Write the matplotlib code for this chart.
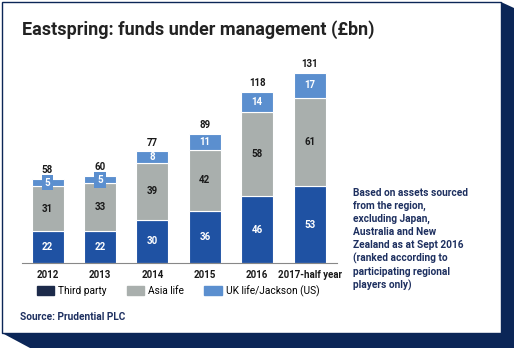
import matplotlib
matplotlib.use("Agg")
import matplotlib.pyplot as plt
from matplotlib.patches import Rectangle, Polygon, Patch

years = ["2012", "2013", "2014", "2015", "2016", "2017-half year"]
third_party = [22, 22, 30, 36, 46, 53]
asia_life = [31, 33, 39, 42, 58, 61]
uk_jackson = [5, 5, 8, 11, 14, 17]
totals = [58, 60, 77, 89, 118, 131]
legend_labels = ["Third party", "Asia life", "UK life/Jackson (US)"]
note = ("Based on assets sourced\nfrom the region,\nexcluding Japan,\nAustralia and New\n"
        "Zealand as at Sept 2016\n(ranked according to\nparticipating regional\nplayers only)")

W, H = 514, 350
navy = "#0b2657"
c_third = "#1f52a3"
c_asia = "#a9afad"
c_uk = "#5b8fcf"
font = "Roboto"

fig = plt.figure(figsize=(W / 100, H / 100), dpi=100)

def px(x, y):
    return (x / W, 1 - y / H)

# card shadow and card, kept behind the axes
shadow = Polygon([px(2, 333), px(30, 348), px(514, 348), px(514, 8), px(501, 2), px(501, 333)],
                 closed=True, transform=fig.transFigure, facecolor=navy, edgecolor="none",
                 zorder=-2)
fig.patches.append(shadow)
card = Rectangle(px(2, 333), 499 / W, 331 / H, transform=fig.transFigure,
                 facecolor="white", edgecolor=navy, linewidth=1, zorder=-1)
fig.patches.append(card)

fig.text(*px(22, 30), "Eastspring: funds under management (£bn)", fontsize=13,
         fontweight="bold", family=font, color="#222222", va="center")

ax = fig.add_axes([22 / W, 1 - 263 / H, 315 / W, 203 / H])
x = range(len(years))
bw = 0.61
ax.bar(x, third_party, bw, color=c_third, edgecolor="white", linewidth=0.8)
ax.bar(x, asia_life, bw, bottom=third_party, color=c_asia, edgecolor="white", linewidth=0.8)
b2 = [a + b for a, b in zip(third_party, asia_life)]
ax.bar(x, uk_jackson, bw, bottom=b2, color=c_uk, edgecolor="white", linewidth=0.8)

lab = dict(ha="center", va="center", fontsize=7, fontweight="bold", family=font)
for i in x:
    ax.text(i, third_party[i] / 2, str(third_party[i]), color="white", **lab)
    ax.text(i, third_party[i] + asia_life[i] / 2, str(asia_life[i]), color="#1a1a1a", **lab)
    kw = {}
    if uk_jackson[i] < 7:
        kw["bbox"] = dict(boxstyle="square,pad=0.3", facecolor=c_uk, edgecolor="none")
    ax.text(i, b2[i] + uk_jackson[i] / 2, str(uk_jackson[i]), color="white", **lab, **kw)
    ax.text(i, totals[i] + 6, str(totals[i]), color="#1a1a1a", **lab)

ax.set_xlim(-0.487, 5.52)
ax.set_ylim(0, 140)
ax.set_xticks(list(x))
ax.set_xticklabels(years, fontsize=7, fontweight="bold", family=font, color="#1a1a1a")
ax.tick_params(axis="x", length=0, pad=5)
ax.set_yticks([])
for s in ["top", "right", "left"]:
    ax.spines[s].set_visible(False)
ax.spines["bottom"].set_color("#888888")
ax.spines["bottom"].set_linewidth(0.8)
ax.set_facecolor("none")

handles = [Patch(color="#1c2a4a"), Patch(color=c_asia), Patch(color=c_uk)]
fig.legend(handles, legend_labels, loc="center", bbox_to_anchor=px(178, 291), ncol=3,
           frameon=False, handlelength=1.7, handleheight=0.9, columnspacing=2.0,
           handletextpad=0.4, prop={"family": font, "size": 7.3})

fig.text(*px(353, 188), note, fontsize=7.3, fontweight="bold", family=font,
         color="#1e3060", va="top", linespacing=1.35)
fig.text(*px(20, 317), "Source: Prudential PLC", fontsize=7.3, fontweight="bold",
         family=font, color="#1e3060", va="center")

fig.savefig("out.png", dpi=100)
